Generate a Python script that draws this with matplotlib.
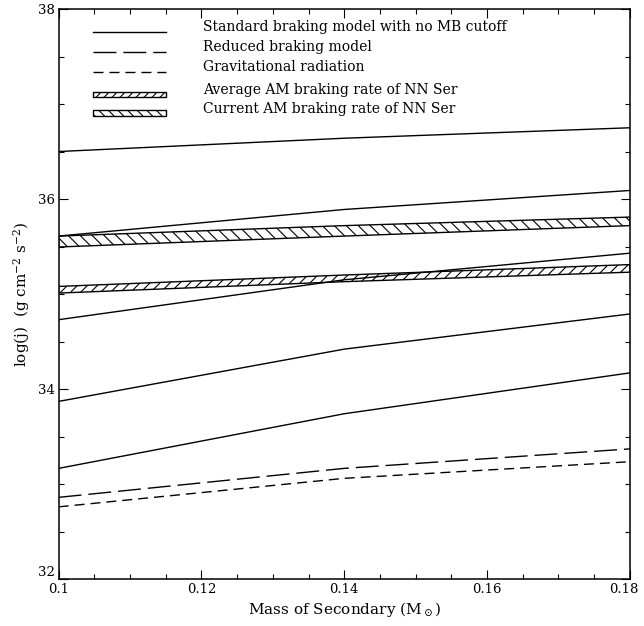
import numpy as np
import matplotlib
matplotlib.use("Agg")
import matplotlib.pyplot as plt
import matplotlib.transforms as mtransforms
from matplotlib.patches import Polygon, Rectangle
from matplotlib.collections import LineCollection
from matplotlib.ticker import MultipleLocator, FormatStrFormatter

plt.rcParams['font.family'] = ['DejaVu Serif']
plt.rcParams['mathtext.fontset'] = 'dejavuserif'

# ---- data ----
mass = [0.10, 0.14, 0.18]
standard_1 = [36.50, 36.64, 36.75]
standard_2 = [35.61, 35.89, 36.09]
standard_3 = [34.73, 35.15, 35.43]
standard_4 = [33.87, 34.42, 34.79]
standard_5 = [33.165, 33.74, 34.17]
reduced = [32.86, 33.165, 33.37]
grav_rad = [32.76, 33.06, 33.235]
current_upper = [35.61, 35.72, 35.81]
current_lower = [35.495, 35.61, 35.72]
average_upper = [35.08, 35.20, 35.31]
average_lower = [35.01, 35.13, 35.23]

legend_labels = ["Standard braking model with no MB cutoff",
                 "Reduced braking model",
                 "Gravitational radiation",
                 "Average AM braking rate of NN Ser",
                 "Current AM braking rate of NN Ser"]

LW = 1.0
long_dash = (0, (16.5, 5.0))
short_dash = (0, (7.2, 4.3))

fig = plt.figure(figsize=(6.44, 6.26), dpi=100)
ax = fig.add_axes([0.0911, 0.075, 0.8869, 0.9106])
ax.set_xlim(0.1, 0.18)
ax.set_ylim(32, 38)


def hatch_lines(ax, clip_patch, spacing_px, direction):
    bbox = ax.get_window_extent()
    wpx = bbox.width
    step = spacing_px / wpx
    segs = []
    for c in np.arange(-1.2, 2.2, step):
        if direction == '/':
            segs.append([(c, 0.0), (c + 1.0, 1.0)])
        else:
            segs.append([(c, 1.0), (c + 1.0, 0.0)])
    lc = LineCollection(segs, colors='black', linewidths=0.8, transform=ax.transAxes)
    ax.add_collection(lc)
    lc.set_clip_path(clip_patch)


def band(ax, x, lo, hi, spacing, direction):
    verts = list(zip(x, lo)) + list(zip(x[::-1], hi[::-1]))
    poly = Polygon(verts, closed=True, facecolor='white', edgecolor='black', lw=LW, zorder=2)
    ax.add_patch(poly)
    hatch_lines(ax, poly, spacing, direction)


for s in [standard_1, standard_2, standard_3, standard_4, standard_5]:
    ax.plot(mass, s, color='black', lw=LW, zorder=3)
ax.plot(mass, reduced, color='black', lw=LW, linestyle=long_dash)
ax.plot(mass, grav_rad, color='black', lw=LW, linestyle=short_dash)

band(ax, mass, current_lower, current_upper, 12, '\\')
band(ax, mass, average_lower, average_upper, 10, '/')

# ---- legend (manual) ----
x0, x1, xt = 0.060, 0.188, 0.252
rows = [0.960, 0.9246, 0.890, 0.850, 0.817]
ax.plot([x0, x1], [rows[0]] * 2, transform=ax.transAxes, color='black', lw=LW)
ax.plot([x0, x1], [rows[1]] * 2, transform=ax.transAxes, color='black', lw=LW, linestyle=long_dash)
ax.plot([x0, x1], [rows[2]] * 2, transform=ax.transAxes, color='black', lw=LW, linestyle=short_dash)
h = 0.010
for r, sp, d in [(rows[3], 10, '/'), (rows[4], 12, '\\')]:
    rect = Rectangle((x0, r - h / 2), x1 - x0, h, transform=ax.transAxes,
                     facecolor='white', edgecolor='black', lw=LW)
    ax.add_patch(rect)
    hatch_lines(ax, rect, sp * 0.8, d)
for r, lab in zip(rows, legend_labels):
    ax.text(xt, r + 0.001, lab, transform=ax.transAxes, fontsize=10, va='baseline', ha='left')

# ---- axes styling ----
ax.xaxis.set_major_locator(MultipleLocator(0.02))
ax.xaxis.set_minor_locator(MultipleLocator(0.005))
ax.yaxis.set_major_locator(MultipleLocator(2))
ax.yaxis.set_minor_locator(MultipleLocator(0.5))
ax.xaxis.set_major_formatter(FormatStrFormatter('%g'))
ax.yaxis.set_major_formatter(FormatStrFormatter('%g'))
ax.tick_params(which='both', direction='in', top=True, right=True, width=0.8, labelsize=9.5)
ax.tick_params(which='major', length=6.5, pad=3)
ax.tick_params(which='minor', length=3.6)
for sp in ax.spines.values():
    sp.set_linewidth(1.1)

ax.set_xlabel(r'Mass of Secondary (M$_\odot$)', fontsize=11, labelpad=3)
ax.set_ylabel(r'log(j)  (g cm$^{-2}$ s$^{-2}$)', fontsize=11, labelpad=4)

fig.canvas.draw()
ylabels = ax.get_yticklabels()
for t in ylabels:
    if t.get_text() == '32':
        t.set_transform(t.get_transform() + mtransforms.ScaledTranslation(0, 6 / 72, fig.dpi_scale_trans))
for t in ax.get_xticklabels():
    if t.get_text() == '0.18':
        t.set_transform(t.get_transform() + mtransforms.ScaledTranslation(-4 / 72, 0, fig.dpi_scale_trans))

fig.savefig('out.png', dpi=100)
